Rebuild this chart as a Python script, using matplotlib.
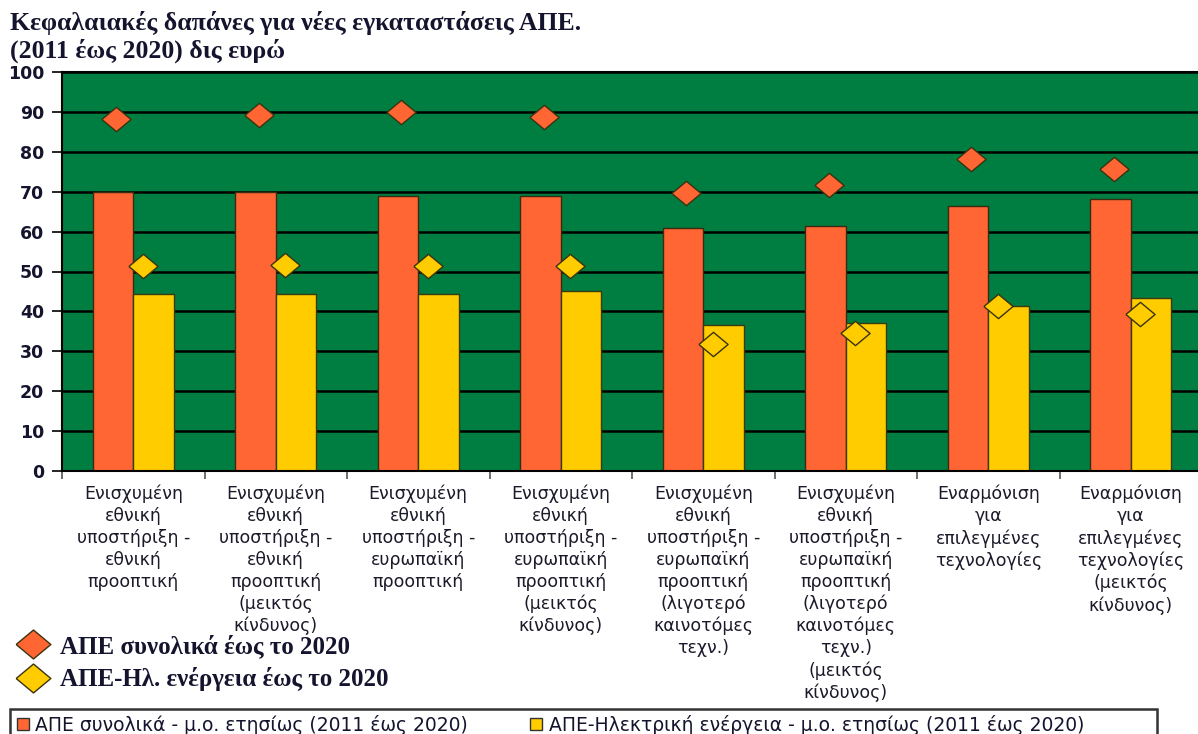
import matplotlib
matplotlib.use('Agg')
import matplotlib.pyplot as plt
from matplotlib.lines import Line2D
from matplotlib.patches import Patch, Rectangle
import numpy as np

# --- data (δις ευρώ) ---
categories = [
    "Ενισχυμένη\nεθνική\nυποστήριξη -\nεθνική\nπροοπτική",
    "Ενισχυμένη\nεθνική\nυποστήριξη -\nεθνική\nπροοπτική\n(μεικτός\nκίνδυνος)",
    "Ενισχυμένη\nεθνική\nυποστήριξη -\nευρωπαϊκή\nπροοπτική",
    "Ενισχυμένη\nεθνική\nυποστήριξη -\nευρωπαϊκή\nπροοπτική\n(μεικτός\nκίνδυνος)",
    "Ενισχυμένη\nεθνική\nυποστήριξη -\nευρωπαϊκή\nπροοπτική\n(λιγοτερό\nκαινοτόμες\nτεχν.)",
    "Ενισχυμένη\nεθνική\nυποστήριξη -\nευρωπαϊκή\nπροοπτική\n(λιγοτερό\nκαινοτόμες\nτεχν.)\n(μεικτός\nκίνδυνος)",
    "Εναρμόνιση\nγια\nεπιλεγμένες\nτεχνολογίες",
    "Εναρμόνιση\nγια\nεπιλεγμένες\nτεχνολογίες\n(μεικτός\nκίνδυνος)",
]
res_total_avg = [70.0, 70.0, 69.0, 69.0, 61.0, 61.3, 66.3, 68.2]     # bars
res_elec_avg = [44.3, 44.3, 44.3, 45.1, 36.5, 37.2, 41.3, 43.4]      # bars
res_total_2020 = [88.2, 89.1, 89.9, 88.7, 69.6, 71.6, 78.2, 75.7]    # diamonds
res_elec_2020 = [51.3, 51.7, 51.3, 51.3, 31.8, 34.6, 41.4, 39.4]     # diamonds
yticks = list(range(0, 101, 10))

title = "Κεφαλαιακές δαπάνες για νέες εγκαταστάσεις ΑΠΕ.\n(2011 έως 2020) δις ευρώ"
bar_labels = ["ΑΠΕ συνολικά - μ.ο. ετησίως (2011 έως 2020)",
              "ΑΠΕ-Ηλεκτρική ενέργεια - μ.ο. ετησίως (2011 έως 2020)"]
diamond_labels = ["ΑΠΕ συνολικά έως το 2020", "ΑΠΕ-Ηλ. ενέργεια έως το 2020"]

GREEN = '#007d40'
ORANGE = '#ff6633'
YELLOW = '#ffcc00'
INK = '#14142e'

plt.rcParams['font.family'] = ['DejaVu Sans']

W, H = 1198, 734
fig = plt.figure(figsize=(W / 100, H / 100), dpi=100)
ax = fig.add_axes([62 / W, (H - 471) / H, 1140 / W, 399 / H])
ax.set_facecolor(GREEN)

x = np.arange(len(categories)) + 0.5
bw = 0.285
ax.bar(x - bw / 2, res_total_avg, bw, color=ORANGE, edgecolor='#3a2a10', linewidth=1.0, zorder=2)
ax.bar(x + bw / 2, res_elec_avg, bw, color=YELLOW, edgecolor='#3a3a10', linewidth=1.0, zorder=2)

# slightly flattened diamond marker
diamond = [(-1.2, 0), (0, 1), (1.2, 0), (0, -1), (-1.2, 0)]
ax.plot(x - 0.12, res_total_2020, ls='none', marker=diamond, ms=21,
        mfc=ORANGE, mec='#3b3310', mew=1.0, zorder=3)
ax.plot(x + 0.065, res_elec_2020, ls='none', marker=diamond, ms=21,
        mfc=YELLOW, mec='#3b3310', mew=1.0, zorder=3)

ax.set_xlim(0, len(categories))
ax.set_ylim(0, 100)
ax.set_yticks(yticks)
ax.set_yticklabels([str(v) for v in yticks], fontsize=12.5, fontweight='bold', color=INK)
ax.yaxis.grid(True, color='black', linewidth=1.8)
ax.set_axisbelow(True)

# category boundaries as major ticks, names on minor ticks
ax.set_xticks(np.arange(len(categories) + 1))
ax.set_xticklabels([])
ax.set_xticks(x, minor=True)
ax.set_xticklabels(categories, minor=True, fontsize=12.5, color='#1a1a2a', linespacing=1.27, va='top')
ax.tick_params(axis='x', which='major', length=6, width=1.2, color='#555555', direction='out')
ax.tick_params(axis='x', which='minor', length=0, pad=10)
ax.tick_params(axis='y', length=7, width=1.2, direction='out', pad=6)

for side in ['left', 'bottom', 'top']:
    ax.spines[side].set_color('black')
    ax.spines[side].set_linewidth(1.5)
ax.spines['right'].set_visible(False)

fig.text(10 / W, 1 - 11 / H, title, ha='left', va='top', fontsize=18.5,
         fontweight='bold', family='Liberation Serif', color=INK, linespacing=1.18)

# diamond legend
d_handles = [Line2D([], [], ls='none', marker=diamond, ms=25, mfc=c, mec='#3b3310', mew=1.0)
             for c in (ORANGE, YELLOW)]
leg1 = fig.legend(d_handles, diamond_labels, loc='upper left', bbox_to_anchor=(14 / W, 1 - 634 / H),
                  frameon=False, handlelength=1.5, handletextpad=0.35, labelspacing=0.38,
                  borderaxespad=0, borderpad=0,
                  prop={'family': 'Liberation Serif', 'weight': 'bold', 'size': 18})
for t in leg1.get_texts():
    t.set_color(INK)

# bar legend, frame drawn separately so it spans the full width
b_handles = [Patch(facecolor=ORANGE, edgecolor='#333333', linewidth=1.0),
             Patch(facecolor=YELLOW, edgecolor='#333333', linewidth=1.0)]
leg2 = fig.legend(b_handles, bar_labels, loc='upper left', ncol=2,
                  bbox_to_anchor=(12 / W, 1 - 710 / H),
                  frameon=False, borderaxespad=0, borderpad=0.25,
                  handlelength=0.65, handleheight=0.65, handletextpad=0.35, columnspacing=3.3,
                  prop={'size': 13.5})
for t in leg2.get_texts():
    t.set_color(INK)
fig.add_artist(Rectangle((10 / W, -0.02), 1147 / W, 0.02 + (H - 709) / H,
                         transform=fig.transFigure, fill=False, edgecolor='#333333', linewidth=1.8))

fig.savefig('out.png', dpi=100)
